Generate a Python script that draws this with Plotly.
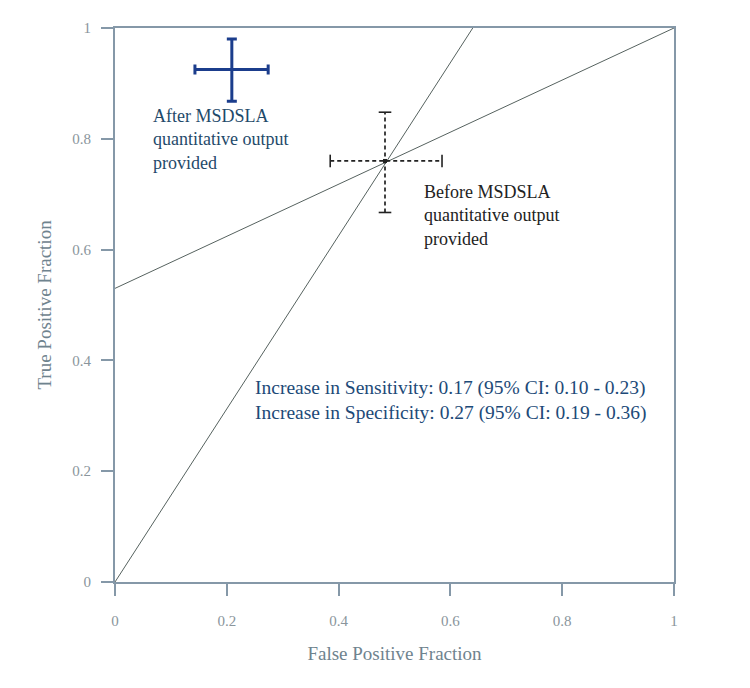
import plotly.graph_objects as go

# reference lines through the ROC space
steep_x = [0, 0.64]
steep_y = [0, 1]
flat_x = [0, 1]
flat_y = [0.53, 1]

# operating points with 95% CI
before_x, before_y = 0.483, 0.760
before_x_lo, before_x_hi = 0.385, 0.585
before_y_lo, before_y_hi = 0.667, 0.848

after_x, after_y = 0.209, 0.925
after_x_lo, after_x_hi = 0.143, 0.274
after_y_lo, after_y_hi = 0.868, 0.980

tick_vals = [0, 0.2, 0.4, 0.6, 0.8, 1]
tick_text = ["0", "0.2", "0.4", "0.6", "0.8", "1"]

axis_col = "#8598a8"
serif = "Liberation Serif"

fig = go.Figure()

fig.add_trace(go.Scatter(x=steep_x, y=steep_y, mode="lines",
                         line=dict(color="#56625f", width=1)))
fig.add_trace(go.Scatter(x=flat_x, y=flat_y, mode="lines",
                         line=dict(color="#56625f", width=1)))

# before: dashed CI bars
fig.add_trace(go.Scatter(x=[before_x_lo, before_x_hi], y=[before_y, before_y], mode="lines",
                         line=dict(color="#222222", width=1.7, dash="4px,3px")))
fig.add_trace(go.Scatter(x=[before_x, before_x], y=[before_y_lo, before_y_hi], mode="lines",
                         line=dict(color="#222222", width=1.7, dash="4px,3px")))
fig.add_trace(go.Scatter(x=[before_x_lo, before_x_hi], y=[before_y, before_y], mode="markers",
                         marker=dict(symbol="line-ns", size=9, line=dict(color="#222222", width=1.6))))
fig.add_trace(go.Scatter(x=[before_x, before_x], y=[before_y_lo, before_y_hi], mode="markers",
                         marker=dict(symbol="line-ew", size=9, line=dict(color="#222222", width=1.6))))
fig.add_trace(go.Scatter(x=[before_x], y=[before_y], mode="markers",
                         marker=dict(symbol="square", size=4, color="#222222")))

# after: solid CI bars
fig.add_trace(go.Scatter(
    x=[after_x], y=[after_y], mode="markers",
    marker=dict(size=1, color="#1b3d8c"),
    error_x=dict(type="data", symmetric=False, array=[after_x_hi - after_x],
                 arrayminus=[after_x - after_x_lo], color="#1b3d8c", thickness=3, width=5),
    error_y=dict(type="data", symmetric=False, array=[after_y_hi - after_y],
                 arrayminus=[after_y - after_y_lo], color="#1b3d8c", thickness=3, width=5),
))

fig.add_annotation(x=0.064, y=0.862, xref="x", yref="y", xanchor="left", yanchor="top",
                   align="left", showarrow=False,
                   text="After MSDSLA<br>quantitative output<br>provided",
                   font=dict(family=serif, size=18, color="#1f4a6a"))
fig.add_annotation(x=0.549, y=0.725, xref="x", yref="y", xanchor="left", yanchor="top",
                   align="left", showarrow=False,
                   text="Before MSDSLA<br>quantitative output<br>provided",
                   font=dict(family=serif, size=18, color="#222222"))
fig.add_annotation(x=0.247, y=0.374, xref="x", yref="y", xanchor="left", yanchor="top",
                   align="left", showarrow=False,
                   text="Increase in Sensitivity: 0.17 (95% CI: 0.10 - 0.23)<br>"
                        "Increase in Specificity: 0.27 (95% CI: 0.19 - 0.36)",
                   font=dict(family=serif, size=19.5, color="#1d4a78"))

axis_common = dict(range=[0, 1], tickvals=tick_vals, ticktext=tick_text,
                   showgrid=False, zeroline=False, showline=True, mirror=True,
                   linecolor=axis_col, linewidth=2, ticks="outside", ticklen=12,
                   tickcolor=axis_col, tickwidth=1.5,
                   tickfont=dict(family=serif, size=15, color="#8a959c"))

fig.update_xaxes(**axis_common, ticklabelstandoff=12,
                 title=dict(text="False Positive Fraction", standoff=19,
                            font=dict(family=serif, size=19, color="#6f838e")))
fig.update_yaxes(**axis_common, ticklabelstandoff=7,
                 title=dict(text="True Positive Fraction", standoff=16,
                            font=dict(family=serif, size=19, color="#6f838e")))

fig.update_layout(width=750, height=688, showlegend=False,
                  paper_bgcolor="white", plot_bgcolor="white",
                  margin=dict(l=107, r=84, t=15, b=114))

fig.write_html("out.html")
